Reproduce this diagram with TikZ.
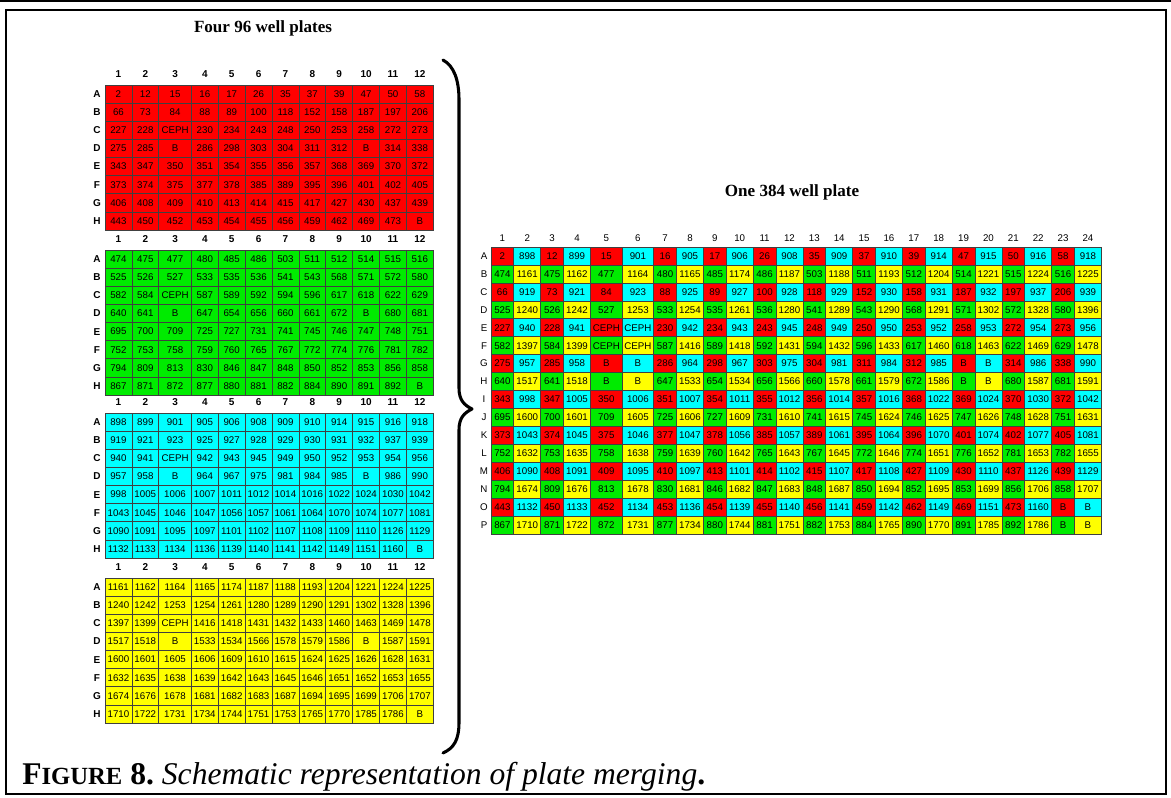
\documentclass[tikz,border=0pt]{standalone}
\usepackage{fontspec}
\setmainfont{Liberation Serif}
\newfontfamily\arialf{Liberation Sans}
\definecolor{wred}{RGB}{255,0,0}
\definecolor{wgreen}{RGB}{0,235,0}
\definecolor{wcyan}{RGB}{0,255,255}
\definecolor{wyellow}{RGB}{255,255,0}
\def\plx{105,131.88,158.76,191.36,218.24,245.12,272,298.88,325.76,352.64,379.52,406.4,433.28}
\def\prx{491,513.75,540.75,563.5,590.5,622.1,653.7,676.45,703.45,726.2,753.2,775.95,802.95,825.7,852.7,875.45,902.45,925.2,952.2,974.95,1001.95,1024.7,1051.7,1074.45,1101.45}
% #1 plate id, #2 colour, #3 top y, #4 row offset in 384, #5 col offset in 384, #6 data
\newcommand\drawplate[6]{%
  \foreach \j in {1,...,12}{%
    \pgfmathsetmacro\xa{{\plx}[\j-1]}%
    \pgfmathsetmacro\xb{{\plx}[\j]}%
    \node[hdr,name=h#1-\j] at ({(\xa+\xb)/2},{#3-10.5}) {\j};
  }
  \foreach \L [count=\k] in {A,B,C,D,E,F,G,H}{%
    \node[hdr,name=l#1-\k] at (97,{#3+(\k-0.5)*18.125}) {\L};
  }
  \foreach \rowdata [count=\k] in {#6}{%
    \foreach \v [count=\j] in \rowdata {%
      \pgfmathsetmacro\xa{{\plx}[\j-1]}%
      \pgfmathsetmacro\xb{{\plx}[\j]}%
      \pgfmathsetmacro\ya{#3+(\k-1)*18.125}%
      \pgfmathsetmacro\yb{\ya+18.125}%
      \path[cell,fill=#2] (\xa,\ya) rectangle (\xb,\yb);
      \node[num,name=p#1-\k-\j] at ({(\xa+\xb)/2},{(\ya+\yb)/2}) {\v};
      \pgfmathtruncatemacro\rr{2*\k-1+#4}%
      \pgfmathtruncatemacro\cc{2*\j-1+#5}%
      \pgfmathsetmacro\Xa{{\prx}[\cc-1]}%
      \pgfmathsetmacro\Xb{{\prx}[\cc]}%
      \pgfmathsetmacro\Ya{247+(\rr-1)*17.9375}%
      \pgfmathsetmacro\Yb{\Ya+17.9375}%
      \path[cell,fill=#2] (\Xa,\Ya) rectangle (\Xb,\Yb);
      \node[num,name=q-\rr-\cc] at ({(\Xa+\Xb)/2},{(\Ya+\Yb)/2}) {\v};
    }
  }
}
\begin{document}
\begin{tikzpicture}[x=0.75pt,y=-0.75pt,
  cell/.style={draw=black!75,line width=0.45pt},
  num/.style={font=\arialf\fontsize{7.3}{8}\selectfont,inner sep=0pt},
  hdr/.style={font=\arialf\bfseries\fontsize{7.5}{8}\selectfont,inner sep=0pt},
  hdrr/.style={font=\arialf\fontsize{7.3}{8}\selectfont,inner sep=0pt},
  ttl/.style={font=\bfseries\fontsize{12.8}{14}\selectfont,inner sep=0pt}]
\useasboundingbox (0,0) rectangle (1171,798);
\draw[line width=0.8pt] (0,1) -- (1171,1);
\draw[line width=1.5pt] (6,10) rectangle (1166,794);
\node[ttl] (t96) at (263,28) {Four 96 well plates};
\node[ttl] (t384) at (792,192) {One 384 well plate};
% 384 headers
\foreach \c in {1,...,24}{%
  \pgfmathsetmacro\Xa{{\prx}[\c-1]}%
  \pgfmathsetmacro\Xb{{\prx}[\c]}%
  \node[hdrr,name=qh-\c] at ({(\Xa+\Xb)/2},238.5) {\c};
}
\foreach \L [count=\r] in {A,B,C,D,E,F,G,H,I,J,K,L,M,N,O,P}{%
  \node[hdrr,name=ql-\r] at (484,{247+(\r-0.5)*17.9375}) {\L};
}
\drawplate{1}{wred}{85}{0}{0}{%
{2,12,15,16,17,26,35,37,39,47,50,58},
{66,73,84,88,89,100,118,152,158,187,197,206},
{227,228,CEPH,230,234,243,248,250,253,258,272,273},
{275,285,B,286,298,303,304,311,312,B,314,338},
{343,347,350,351,354,355,356,357,368,369,370,372},
{373,374,375,377,378,385,389,395,396,401,402,405},
{406,408,409,410,413,414,415,417,427,430,437,439},
{443,450,452,453,454,455,456,459,462,469,473,B}}
\drawplate{2}{wgreen}{250}{1}{0}{%
{474,475,477,480,485,486,503,511,512,514,515,516},
{525,526,527,533,535,536,541,543,568,571,572,580},
{582,584,CEPH,587,589,592,594,596,617,618,622,629},
{640,641,B,647,654,656,660,661,672,B,680,681},
{695,700,709,725,727,731,741,745,746,747,748,751},
{752,753,758,759,760,765,767,772,774,776,781,782},
{794,809,813,830,846,847,848,850,852,853,856,858},
{867,871,872,877,880,881,882,884,890,891,892,B}}
\drawplate{3}{wcyan}{413}{0}{1}{%
{898,899,901,905,906,908,909,910,914,915,916,918},
{919,921,923,925,927,928,929,930,931,932,937,939},
{940,941,CEPH,942,943,945,949,950,952,953,954,956},
{957,958,B,964,967,975,981,984,985,B,986,990},
{998,1005,1006,1007,1011,1012,1014,1016,1022,1024,1030,1042},
{1043,1045,1046,1047,1056,1057,1061,1064,1070,1074,1077,1081},
{1090,1091,1095,1097,1101,1102,1107,1108,1109,1110,1126,1129},
{1132,1133,1134,1136,1139,1140,1141,1142,1149,1151,1160,B}}
\drawplate{4}{wyellow}{578}{1}{1}{%
{1161,1162,1164,1165,1174,1187,1188,1193,1204,1221,1224,1225},
{1240,1242,1253,1254,1261,1280,1289,1290,1291,1302,1328,1396},
{1397,1399,CEPH,1416,1418,1431,1432,1433,1460,1463,1469,1478},
{1517,1518,B,1533,1534,1566,1578,1579,1586,B,1587,1591},
{1600,1601,1605,1606,1609,1610,1615,1624,1625,1626,1628,1631},
{1632,1635,1638,1639,1642,1643,1645,1646,1651,1652,1653,1655},
{1674,1676,1678,1681,1682,1683,1687,1694,1695,1699,1706,1707},
{1710,1722,1731,1734,1744,1751,1753,1765,1770,1785,1786,B}}
% brace
\draw[line width=2.3pt,line cap=round,line join=round]
  (443,60) .. controls (454,66) and (459,80) .. (459,100)
  -- (459,388) .. controls (459,400) and (464,405) .. (472,409)
  .. controls (464,413) and (459,418) .. (459,430)
  -- (459,722) .. controls (459,740) and (454,748) .. (443,753);
\node[anchor=base west,inner sep=0pt] (cap) at (22,784)
  {\fontsize{23.7}{28}\selectfont\bfseries F{\fontsize{18.5}{20}\selectfont IGURE} 8.\ \mdseries\itshape Schematic representation of plate merging\upshape\bfseries .};
\end{tikzpicture}
\end{document}
